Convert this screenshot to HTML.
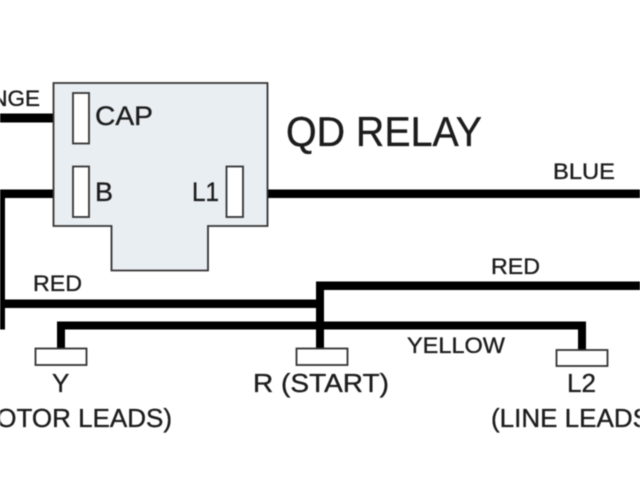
<!DOCTYPE html>
<html>
<head>
<meta charset="utf-8">
<style>
html,body{margin:0;padding:0;background:#fff;width:640px;height:480px;overflow:hidden}
svg{display:block;filter:blur(0.4px)}
text{font-family:"Liberation Sans",sans-serif;fill:#1c1c1c;stroke:#1c1c1c;stroke-width:0.35px}
</style>
</head>
<body>
<svg width="640" height="480" viewBox="0 0 640 480" xmlns="http://www.w3.org/2000/svg">
<rect width="640" height="480" fill="#fff"/>
<!-- wires -->
<g fill="#000">
<rect x="0" y="113.5" width="54" height="9"/>
<rect x="0" y="189.5" width="54" height="8.5"/>
<rect x="0" y="189.5" width="5" height="140"/>
<rect x="267" y="189.5" width="373" height="8.5"/>
<rect x="0" y="299.5" width="320" height="8.5"/>
<rect x="316" y="281.5" width="324" height="8.5"/>
<rect x="316" y="281.5" width="8" height="68"/>
<rect x="57" y="321.5" width="529" height="8"/>
<rect x="57" y="321.5" width="8" height="27"/>
<rect x="578" y="321.5" width="8" height="29"/>
</g>
<!-- relay -->
<polygon points="53.5,83 267.5,83 267.5,226 208,226 208,270.5 111.5,270.5 111.5,226 53.5,226" fill="#e9eef2" stroke="#333" stroke-width="1.8"/>
<g fill="#fff" stroke="#333" stroke-width="1.8">
<rect x="73" y="93" width="16" height="50.5"/>
<rect x="73" y="166.5" width="16" height="50.5"/>
<rect x="226.5" y="166.5" width="16.5" height="50.5"/>
<rect x="35.5" y="348.5" width="51" height="16.5"/>
<rect x="296.5" y="348.5" width="51" height="16.5"/>
<rect x="556.5" y="350" width="51" height="16"/>
</g>
<!-- labels -->
<text x="95" y="125" font-size="27" textLength="58" lengthAdjust="spacingAndGlyphs">CAP</text>
<text x="95" y="201" font-size="27">B</text>
<text x="192" y="201" font-size="27" textLength="27" lengthAdjust="spacingAndGlyphs">L1</text>
<text x="40" y="106" font-size="22.5" text-anchor="end">NGE</text>
<text x="286" y="146" font-size="41.5" textLength="196" lengthAdjust="spacingAndGlyphs">QD RELAY</text>
<text x="553" y="179" font-size="22" textLength="62" lengthAdjust="spacingAndGlyphs">BLUE</text>
<text x="33" y="291" font-size="22" textLength="49" lengthAdjust="spacingAndGlyphs">RED</text>
<text x="491" y="274" font-size="22" textLength="49" lengthAdjust="spacingAndGlyphs">RED</text>
<text x="407" y="353" font-size="22" textLength="98" lengthAdjust="spacingAndGlyphs">YELLOW</text>
<text x="52" y="392" font-size="26">Y</text>
<text x="253" y="392" font-size="26" textLength="136" lengthAdjust="spacingAndGlyphs">R (START)</text>
<text x="567" y="392" font-size="26">L2</text>
<text x="172" y="427" font-size="26" text-anchor="end">OTOR LEADS)</text>
<text x="491" y="427" font-size="26">(LINE LEADS)</text>
</svg>
</body>
</html>
